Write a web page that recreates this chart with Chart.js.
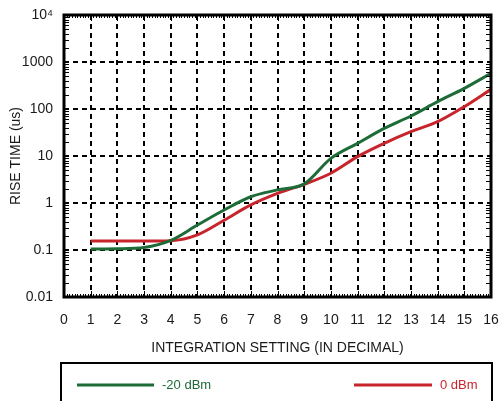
<!DOCTYPE html>
<html>
<head>
<meta charset="utf-8">
<script src="https://cdn.jsdelivr.net/npm/chart.js@4/dist/chart.umd.min.js"></script>
<style>
  html, body { margin: 0; padding: 0; background: #ffffff; }
  #c { display: block; }
</style>
</head>
<body>
<canvas id="c" width="500" height="401"></canvas>
<script>
// ---- data ----
const settings   = [1, 2, 3, 4, 5, 6, 7, 8, 9, 10, 11, 12, 13, 14, 15, 16];
const riseMinus20 = [0.105, 0.106, 0.113, 0.16, 0.34, 0.71, 1.36, 1.9, 2.55, 8.9, 18.6, 38.7, 71, 143, 275, 575];
const rise0       = [0.155, 0.155, 0.155, 0.158, 0.21, 0.43, 0.91, 1.6, 2.5, 4.3, 9.7, 18.6, 32.9, 53.7, 112, 262];
const seriesNames = ['-20 dBm', '0 dBm'];
const seriesColors = ['#1d6b37', '#c8242b'];
const xTicks = [0, 1, 2, 3, 4, 5, 6, 7, 8, 9, 10, 11, 12, 13, 14, 15, 16];
const yTicks = [0.01, 0.1, 1, 10, 100, 1000, 10000];
const yTickLabels = ['0.01', '0.1', '1', '10', '100', '1000', '10\u2074'];
const xTitle = 'INTEGRATION SETTING (IN DECIMAL)';
const yTitle = 'RISE TIME (us)';

const FONT = '"Liberation Sans", Arial, sans-serif';
const TXT = '#1a1a1a';

function pts(ys) { return settings.map((x, i) => ({ x: x, y: ys[i] })); }

// frame, minor ticks and legend box
const framePlugin = {
  id: 'frame',
  afterDraw(chart) {
    const { ctx, chartArea: a, scales } = chart;
    const xs = scales.x, ys = scales.y;
    ctx.save();
    ctx.strokeStyle = '#000';
    ctx.lineWidth = 1;
    for (let d = -2; d < 4; d++) {
      for (let k = 2; k <= 9; k++) {
        const y = Math.round(ys.getPixelForValue(k * Math.pow(10, d))) + 0.5;
        ctx.beginPath();
        ctx.moveTo(a.left, y); ctx.lineTo(a.left + 5, y);
        ctx.moveTo(a.right, y); ctx.lineTo(a.right - 5, y);
        ctx.stroke();
      }
    }
    for (let i = 1; i < 160; i++) {
      const v = i / 10;
      const x = Math.round(xs.getPixelForValue(v)) + 0.5;
      const len = (i % 10 === 0) ? 6 : 3;
      ctx.beginPath();
      ctx.moveTo(x, a.bottom); ctx.lineTo(x, a.bottom - len);
      ctx.moveTo(x, a.top); ctx.lineTo(x, a.top + len);
      ctx.stroke();
    }
    ctx.lineWidth = 3;
    ctx.strokeRect(a.left, a.top, a.right - a.left, a.bottom - a.top);

    // legend box
    ctx.lineWidth = 2;
    ctx.strokeRect(61, 363, 431, 45);
    const legendY = 385;
    const items = [
      { x0: 77, x1: 154, tx: 162 },
      { x0: 354, x1: 432, tx: 440 }
    ];
    chart.data.datasets.forEach((ds, i) => {
      const it = items[i];
      ctx.strokeStyle = ds.borderColor;
      ctx.lineWidth = 3;
      ctx.beginPath();
      ctx.moveTo(it.x0, legendY); ctx.lineTo(it.x1, legendY);
      ctx.stroke();
      ctx.fillStyle = ds.borderColor;
      ctx.font = '13px ' + FONT;
      ctx.textBaseline = 'middle';
      ctx.textAlign = 'left';
      ctx.fillText(ds.label, it.tx, legendY);
    });
    ctx.restore();
  }
};

new Chart(document.getElementById('c'), {
  type: 'line',
  data: {
    datasets: [
      { label: seriesNames[0], data: pts(riseMinus20), borderColor: seriesColors[0], borderWidth: 3,
        pointRadius: 0, cubicInterpolationMode: 'monotone', fill: false },
      { label: seriesNames[1], data: pts(rise0), borderColor: seriesColors[1], borderWidth: 3,
        pointRadius: 0, cubicInterpolationMode: 'monotone', fill: false }
    ]
  },
  options: {
    responsive: false,
    animation: false,
    devicePixelRatio: 1,
    layout: { padding: { top: 15, right: 9, left: 0, bottom: 0 } },
    plugins: { legend: { display: false }, tooltip: { enabled: false } },
    scales: {
      x: {
        type: 'linear', min: 0, max: 16,
        afterBuildTicks: (s) => { s.ticks = xTicks.map(v => ({ value: v })); },
        afterFit: (s) => { s.height = 104; s.paddingLeft = 0; s.paddingRight = 0; s.paddingTop = 0; s.paddingBottom = 0; },
        ticks: { color: TXT, font: { family: FONT, size: 14 }, padding: 15, maxRotation: 0, autoSkip: false },
        grid: { color: '#000', lineWidth: 2, drawTicks: false },
        border: { display: false, dash: [5, 4] },
        title: { display: true, text: xTitle, color: TXT, font: { family: FONT, size: 14 },
                 padding: { top: 0, bottom: 44 } }
      },
      y: {
        type: 'logarithmic', min: 0.01, max: 10000,
        afterBuildTicks: (s) => { s.ticks = yTicks.map(v => ({ value: v })); },
        afterFit: (s) => { s.width = 64; s.paddingLeft = 0; s.paddingRight = 0; s.paddingTop = 0; s.paddingBottom = 0; },
        ticks: { color: TXT, font: { family: FONT, size: 14 }, padding: 11, autoSkip: false,
                 callback: (v) => { const i = yTicks.indexOf(v); return i >= 0 ? yTickLabels[i] : ''; } },
        grid: { color: '#000', lineWidth: 2, drawTicks: false },
        border: { display: false, dash: [5, 4] },
        title: { display: true, text: yTitle, color: TXT, font: { family: FONT, size: 14 },
                 padding: { top: 8, bottom: 0 } }
      }
    }
  },
  plugins: [framePlugin]
});
</script>
</body>
</html>
